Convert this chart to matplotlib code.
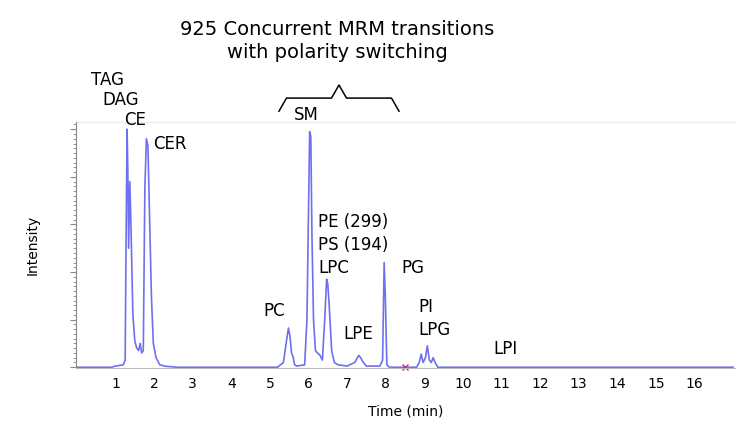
import matplotlib
matplotlib.use("Agg")
import matplotlib.pyplot as plt
from matplotlib.ticker import MultipleLocator

# trace (time in min, relative intensity)
time = [0.0, 0.9, 1.0, 1.2, 1.25, 1.28, 1.3, 1.32, 1.34, 1.37, 1.4, 1.45, 1.5, 1.55,
        1.6, 1.64, 1.68, 1.72, 1.76, 1.8, 1.84, 1.88, 1.93, 1.98, 2.05, 2.15, 2.3,
        2.6, 5.2, 5.35, 5.42, 5.48, 5.52, 5.56, 5.6, 5.64, 5.7, 5.9, 5.96, 6.03, 6.06,
        6.09, 6.13, 6.18, 6.23, 6.3, 6.36, 6.42, 6.47, 6.5, 6.54, 6.6, 6.67, 6.77,
        7.0, 7.2, 7.3, 7.35, 7.42, 7.5, 7.85, 7.92, 7.96, 7.99, 8.03, 8.1, 8.8,
        8.87, 8.92, 8.97, 9.03, 9.08, 9.13, 9.18, 9.23, 9.28, 9.35, 9.5, 17.0]
inten = [0.0, 0.0, 0.005, 0.01, 0.03, 0.65, 1.0, 0.82, 0.5, 0.78, 0.6, 0.22, 0.11,
         0.08, 0.07, 0.1, 0.06, 0.07, 0.75, 0.96, 0.93, 0.65, 0.3, 0.1, 0.04, 0.01,
         0.004, 0.0, 0.0, 0.02, 0.1, 0.165, 0.13, 0.06, 0.045, 0.01, 0.005, 0.01, 0.2,
         0.99, 0.97, 0.55, 0.2, 0.07, 0.06, 0.05, 0.03, 0.2, 0.37, 0.35, 0.25, 0.07,
         0.02, 0.01, 0.005, 0.02, 0.05, 0.04, 0.02, 0.005, 0.005, 0.03, 0.44, 0.3,
         0.01, 0.0, 0.0, 0.02, 0.055, 0.02, 0.04, 0.09, 0.03, 0.02, 0.04, 0.02, 0.0,
         0.0, 0.0]

xticks = list(range(1, 17))

# label text, x, y (data coords)
labels = [("TAG", 0.8, 1.17), ("DAG", 1.13, 1.085), ("CE", 1.5, 1.0),
          ("CER", 2.4, 0.9), ("SM", 5.95, 1.02), ("PC", 5.1, 0.2),
          ("PE (299)\nPS (194)\nLPC", 6.3, 0.38), ("LPE", 7.3, 0.1),
          ("PG", 8.7, 0.38), ("PI\nLPG", 9.2, 0.12), ("LPI", 11.1, 0.04)]

fig = plt.figure(figsize=(7.5, 4.36), dpi=100)
ax = fig.add_axes([0.101, 0.155, 0.879, 0.565])
ax.plot(time, inten, color="#6f6ff0", lw=1.2)
ax.set_xlim(-0.03, 17.05)
ax.set_ylim(-0.005, 1.03)
ax.set_xticks(xticks)
ax.tick_params(axis="x", length=0, labelsize=10, pad=6)
ax.yaxis.set_major_locator(MultipleLocator(0.2))
ax.yaxis.set_minor_locator(MultipleLocator(0.02))
ax.tick_params(axis="y", which="both", labelleft=False, length=2, color="#888888")
ax.tick_params(axis="y", which="major", length=4)
for s in ["top", "right"]:
    ax.spines[s].set_visible(False)
ax.spines["left"].set_color("#888888")
ax.spines["bottom"].set_color("#bbbbbb")
ax.axhline(1.03, color="#eeeeee", lw=1, clip_on=False)
ax.set_xlabel("Time (min)", fontsize=10, labelpad=10)
ax.set_ylabel("Intensity", fontsize=10, labelpad=22)
ax.plot([8.5], [0.003], marker="x", color="#c0306a", ms=5, clip_on=False)

for text, x, y in labels:
    ax.text(x, y, text, fontsize=12, ha="center" if "\n" not in text else "left",
            va="bottom", linespacing=1.35)
# fix alignment of multi-line block labels
ax.texts[6].set_x(6.25)
ax.texts[9].set_x(8.85)

fig.text(0.45, 0.955, "925 Concurrent MRM transitions\nwith polarity switching",
         ha="center", va="top", fontsize=14, linespacing=1.3)
# brace
bx0, bx1, by = 0.372, 0.532, 0.775
mid = (bx0 + bx1) / 2
fig.lines.append(plt.Line2D([bx0, bx0 + 0.01, mid - 0.01, mid, mid + 0.01, bx1 - 0.01, bx1],
                            [by - 0.03, by, by, by + 0.03, by, by, by - 0.03],
                            transform=fig.transFigure, color="black", lw=1.1))

fig.savefig("out.png", dpi=100)
